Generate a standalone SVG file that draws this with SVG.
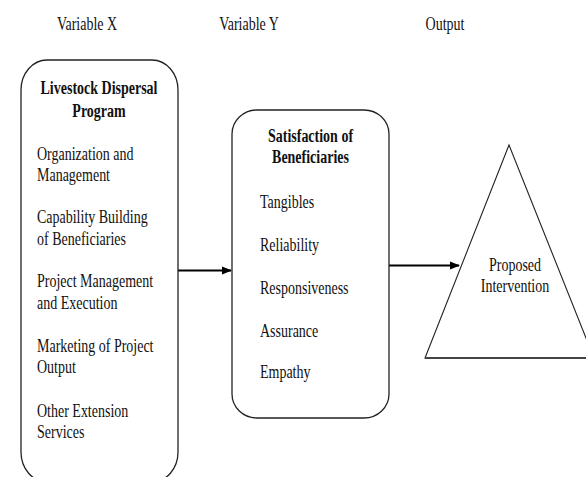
<svg xmlns="http://www.w3.org/2000/svg" width="586" height="477" viewBox="0 0 586 477">
<defs>
<style>
.t{font-family:"Liberation Serif","Times New Roman",serif;font-size:14px;fill:#111}
.b{font-weight:bold;text-anchor:middle}
.c{text-anchor:middle}
.box{fill:#fff;stroke:#222;stroke-width:1.3}
.ln{stroke:#000;stroke-width:1.8;fill:none}
</style>
<marker id="ah" markerWidth="10" markerHeight="10" refX="9" refY="5" orient="auto" markerUnits="userSpaceOnUse">
<path d="M0,1 L10,5 L0,9 Z" fill="#000"/>
</marker>
</defs>
<rect width="586" height="477" fill="#fff"/>
<g id="headers">
<text class="t c" transform="translate(87,30) scale(1,1.3)">Variable X</text>
<text class="t c" transform="translate(249,30) scale(1,1.3)">Variable Y</text>
<text class="t c" transform="translate(445,30) scale(1,1.3)">Output</text>
</g>
<g id="connectors">
<line class="ln" x1="178" y1="270.5" x2="231" y2="270.5" marker-end="url(#ah)"/>
<line class="ln" x1="389" y1="265.5" x2="459" y2="265.5" marker-end="url(#ah)"/>
</g>
<g id="node-livestock">
<rect class="box" x="21" y="60" width="157" height="422" rx="26" ry="30"/>
<text class="t b" transform="translate(99,94) scale(1,1.3)">Livestock Dispersal</text>
<text class="t b" transform="translate(99,117) scale(1,1.3)">Program</text>
<text class="t" transform="translate(37,160) scale(1,1.3)">Organization and</text>
<text class="t" transform="translate(37,181) scale(1,1.3)">Management</text>
<text class="t" transform="translate(37,223) scale(1,1.3)">Capability Building</text>
<text class="t" transform="translate(37,245) scale(1,1.3)">of Beneficiaries</text>
<text class="t" transform="translate(37,287) scale(1,1.3)">Project Management</text>
<text class="t" transform="translate(37,309) scale(1,1.3)">and Execution</text>
<text class="t" transform="translate(37,352) scale(1,1.3)">Marketing of Project</text>
<text class="t" transform="translate(37,373) scale(1,1.3)">Output</text>
<text class="t" transform="translate(37,417) scale(1,1.3)">Other Extension</text>
<text class="t" transform="translate(37,438) scale(1,1.3)">Services</text>
</g>
<g id="node-satisfaction">
<rect class="box" x="232" y="110" width="157" height="308" rx="25" ry="24"/>
<text class="t b" transform="translate(310.5,142) scale(1,1.3)">Satisfaction of</text>
<text class="t b" transform="translate(310.5,163) scale(1,1.3)">Beneficiaries</text>
<text class="t" transform="translate(260,208) scale(1,1.3)">Tangibles</text>
<text class="t" transform="translate(260,251) scale(1,1.3)">Reliability</text>
<text class="t" transform="translate(260,294) scale(1,1.3)">Responsiveness</text>
<text class="t" transform="translate(260,337) scale(1,1.3)">Assurance</text>
<text class="t" transform="translate(260,378) scale(1,1.3)">Empathy</text>
</g>
<g id="node-output">
<polygon points="509,145 425,358 594,358" fill="#fff" stroke="#222" stroke-width="1.1"/>
<line x1="425" y1="358" x2="594" y2="358" stroke="#444" stroke-width="1.8"/>
<text class="t c" transform="translate(515,271) scale(1,1.3)">Proposed</text>
<text class="t c" transform="translate(515,292) scale(1,1.3)">Intervention</text>
</g>
</svg>
